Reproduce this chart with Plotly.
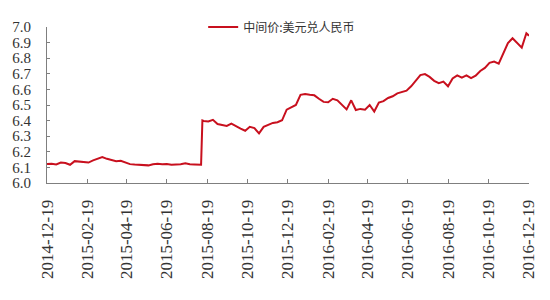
import pandas as pd
import plotly.graph_objects as go

# Weekly (Friday) readings of the central parity, 2014-12-19 .. 2016-12-16
week_start = "2014-12-19"
week_vals = [
    6.121, 6.123, 6.119, 6.131, 6.128, 6.117, 6.140, 6.137, 6.130, 6.131,
    6.145, 6.156, 6.166, 6.155, 6.146, 6.140, 6.143, 6.130, 6.121, 6.118,
    6.116, 6.112, 6.113, 6.120, 6.123, 6.120, 6.121, 6.117, 6.118, 6.120,
    6.126, 6.120, 6.119, 6.116, 6.398, 6.395, 6.405, 6.378, 6.372, 6.366,
    6.380, 6.362, 6.349, 6.335, 6.360, 6.352, 6.318, 6.360, 6.372, 6.385,
    6.390, 6.402, 6.470, 6.483, 6.500, 6.565, 6.570, 6.565, 6.562, 6.540,
    6.520, 6.518, 6.540, 6.530, 6.500, 6.472, 6.530, 6.468, 6.475, 6.470,
    6.500, 6.458, 6.515, 6.525, 6.545, 6.556, 6.575, 6.585, 6.592, 6.620,
    6.655, 6.692, 6.698, 6.680, 6.655, 6.640, 6.650, 6.620, 6.670, 6.690,
    6.675, 6.690, 6.672, 6.688, 6.718, 6.738, 6.770, 6.778, 6.765, 6.830,
    6.897, 6.928, 6.900, 6.868, 6.960,
]
# Extra daily readings (devaluation days and the last day)
extra_dates = ["2015-08-10", "2015-08-12", "2016-12-20"]
extra_vals = [6.117, 6.401, 6.944]

tick_dates = [
    "2014-12-19", "2015-02-19", "2015-04-19", "2015-06-19", "2015-08-19",
    "2015-10-19", "2015-12-19", "2016-02-19", "2016-04-19", "2016-06-19",
    "2016-08-19", "2016-10-19", "2016-12-19",
]
y_ticks = [6.0, 6.1, 6.2, 6.3, 6.4, 6.5, 6.6, 6.7, 6.8, 6.9, 7.0]
series_name = "中间价:美元兑人民币"

week_dates = pd.date_range(week_start, periods=len(week_vals), freq="7D")
df = pd.DataFrame({
    "date": list(week_dates) + [pd.Timestamp(d) for d in extra_dates],
    "value": week_vals + extra_vals,
}).sort_values("date")

fig = go.Figure()
fig.add_trace(go.Scatter(
    x=df["date"], y=df["value"], mode="lines", name=series_name,
    line=dict(color="#C8101E", width=2),
    showlegend=True,
))

axis_color = "#7f7f7f"
fig.update_layout(
    width=550, height=300,
    margin=dict(l=46, r=14, t=22, b=117),
    paper_bgcolor="white", plot_bgcolor="white",
    showlegend=True,
    legend=dict(
        x=0.324, y=1.0, xanchor="left", yanchor="middle",
        orientation="h", bgcolor="rgba(0,0,0,0)",
        font=dict(family="Noto Sans CJK SC", size=12, color="#333333"),
    ),
    xaxis=dict(
        type="date",
        range=["2014-12-19", "2016-12-20"],
        tickmode="array", tickvals=tick_dates, ticktext=tick_dates,
        tickangle=-90,
        ticks="inside", ticklen=4, tickcolor=axis_color,
        showline=True, linecolor=axis_color, linewidth=1,
        showgrid=False, zeroline=False,
        ticklabelstandoff=9,
        tickfont=dict(family="Liberation Serif", size=17, color="#333333"),
    ),
    yaxis=dict(
        range=[6.0, 7.0],
        tickmode="array", tickvals=y_ticks,
        ticktext=[f"{v:.1f}" for v in y_ticks],
        ticks="inside", ticklen=3, tickcolor=axis_color,
        showline=True, linecolor=axis_color, linewidth=1,
        showgrid=False, zeroline=False,
        ticklabelstandoff=12,
        tickfont=dict(family="Liberation Serif", size=15, color="#333333"),
    ),
)

fig.write_html("out.html")
